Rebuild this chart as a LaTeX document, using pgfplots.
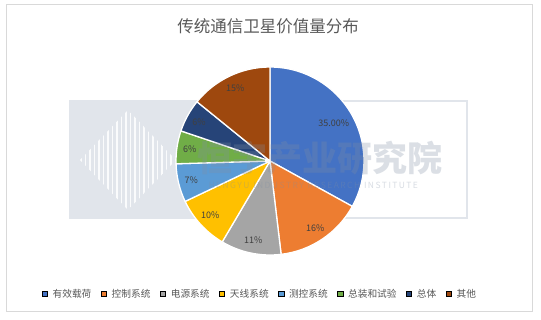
\documentclass[border=0pt]{standalone}
\usepackage{pgfplots}
\pgfplotsset{compat=1.18}
\usepackage{pgfplotstable}
\usepackage{fontspec}
\setmainfont{Noto Sans CJK SC}
\definecolor{slice0}{HTML}{4472C4}
\definecolor{slice1}{HTML}{ED7D31}
\definecolor{slice2}{HTML}{A5A5A5}
\definecolor{slice3}{HTML}{FFC000}
\definecolor{slice4}{HTML}{5B9BD5}
\definecolor{slice5}{HTML}{70AD47}
\definecolor{slice6}{HTML}{264478}
\definecolor{slice7}{HTML}{9E480E}
\definecolor{txtc}{HTML}{595959}
\definecolor{labc}{HTML}{404040}
\definecolor{framec}{HTML}{D9D9D9}
\definecolor{wmband}{HTML}{E1E5EB}
\definecolor{wmtext}{HTML}{7F8DA3}
\tikzset{plab/.style={text=labc, font=\fontsize{9}{10}\selectfont}}

\pgfplotstableread[col sep=comma]{
name,value,lab
有效载荷,35,35.00
控制系统,16,16
电源系统,11,11
天线系统,10,10
测控系统,7,7
总装和试验,6,6
总体,6,6
其他,15,15
}\piedata

\begin{document}
\begin{tikzpicture}
\path[use as bounding box, fill=white] (0,0) rectangle (541pt,-320pt);
\begin{scope}[x=1pt,y=-1pt]
  \draw[framec, line width=1pt] (6,5) rectangle (532,312);
  % watermark background
  \draw[wmband, line width=1.5pt] (70,101) rectangle (467,218);
  \fill[wmband] (70,100) rectangle (200,218);
  \begin{scope}
    \clip (128,110) -- (176,160) -- (128,210) -- (80,160) -- cycle;
    \foreach \xx in {80,84.5,...,180} {\fill[white, opacity=0.85] (\xx,100) rectangle (\xx+1.5,220);}
  \end{scope}
  \node[text=txtc, font=\fontsize{16.5}{18}\selectfont] at (268,26) {传统通信卫星价值量分布};
\end{scope}
\begin{axis}[
  at={(270pt,-161pt)}, anchor=origin,
  x=1pt, y=1pt,
  xmin=-100, xmax=100, ymin=-100, ymax=100,
  hide axis, clip=false,
  legend image code/.code={\fill[#1] (0pt,-2.6pt) rectangle (5.2pt,2.6pt); \path[draw=none,fill=none] (0pt,0pt) -- (8.5pt,0pt);},
  legend columns=-1,
  legend style={draw=none, fill=none, at={(0.45,-0.165)}, anchor=center,
    font=\fontsize{9.7}{11}\selectfont, text=txtc,
    /tikz/every even column/.append style={column sep=7.6pt}},
]
\pgfplotstablegetrowsof{\piedata}
\pgfmathtruncatemacro{\nrows}{\pgfplotsretval-1}
\def\total{0}
\pgfplotsforeachungrouped \i in {0,...,\nrows}{%
  \pgfplotstablegetelem{\i}{value}\of\piedata
  \pgfmathsetmacro\total{\total+\pgfplotsretval}%
}
\def\cum{0}
\pgfplotsforeachungrouped \i in {0,...,\nrows}{%
  \pgfplotstablegetelem{\i}{value}\of\piedata
  \let\vv\pgfplotsretval
  \pgfplotstablegetelem{\i}{lab}\of\piedata
  \let\labtext\pgfplotsretval
  \pgfmathsetmacro\sa{90-\cum/\total*360}%
  \pgfmathsetmacro\cum{\cum+\vv}%
  \pgfmathsetmacro\ea{90-\cum/\total*360}%
  \pgfmathsetmacro\ma{(\sa+\ea)/2}%
  \ifnum\i=0 \def\lr{74}\else\def\lr{81}\fi
  \edef\slice{\noexpand\fill[slice\i, draw=white, line width=1.3pt, line join=round]
    (axis cs:0,0) -- (axis cs:{94*cos(\sa)},{94*sin(\sa)})
    arc[start angle=\sa, end angle=\ea, radius=94pt] -- cycle;}%
  \slice
  \edef\lab{\noexpand\node[plab] at (axis cs:{\lr*cos(\ma)},{\lr*sin(\ma)}) {\labtext\noexpand\%};}%
  \lab
}
\addlegendimage{fill=slice0}\addlegendentry{有效载荷}
\addlegendimage{fill=slice1}\addlegendentry{控制系统}
\addlegendimage{fill=slice2}\addlegendentry{电源系统}
\addlegendimage{fill=slice3}\addlegendentry{天线系统}
\addlegendimage{fill=slice4}\addlegendentry{测控系统}
\addlegendimage{fill=slice5}\addlegendentry{总装和试验}
\addlegendimage{fill=slice6}\addlegendentry{总体}
\addlegendimage{fill=slice7}\addlegendentry{其他}
\end{axis}
\begin{scope}[x=1pt,y=-1pt]
  \node[text=wmtext, opacity=0.28, font=\fontsize{35}{38}\bfseries\selectfont, anchor=west] at (194,158) {恒宇产业研究院};
  \node[text=wmtext, opacity=0.3, font=\fontsize{8.5}{10}\selectfont, anchor=west] at (205,185) {H\,E\,N\,G\,Y\,U\ \ I\,N\,D\,U\,S\,T\,R\,Y\ \ R\,E\,S\,E\,A\,R\,C\,H\ \ I\,N\,S\,T\,I\,T\,U\,T\,E};
\end{scope}
\end{tikzpicture}
\end{document}
